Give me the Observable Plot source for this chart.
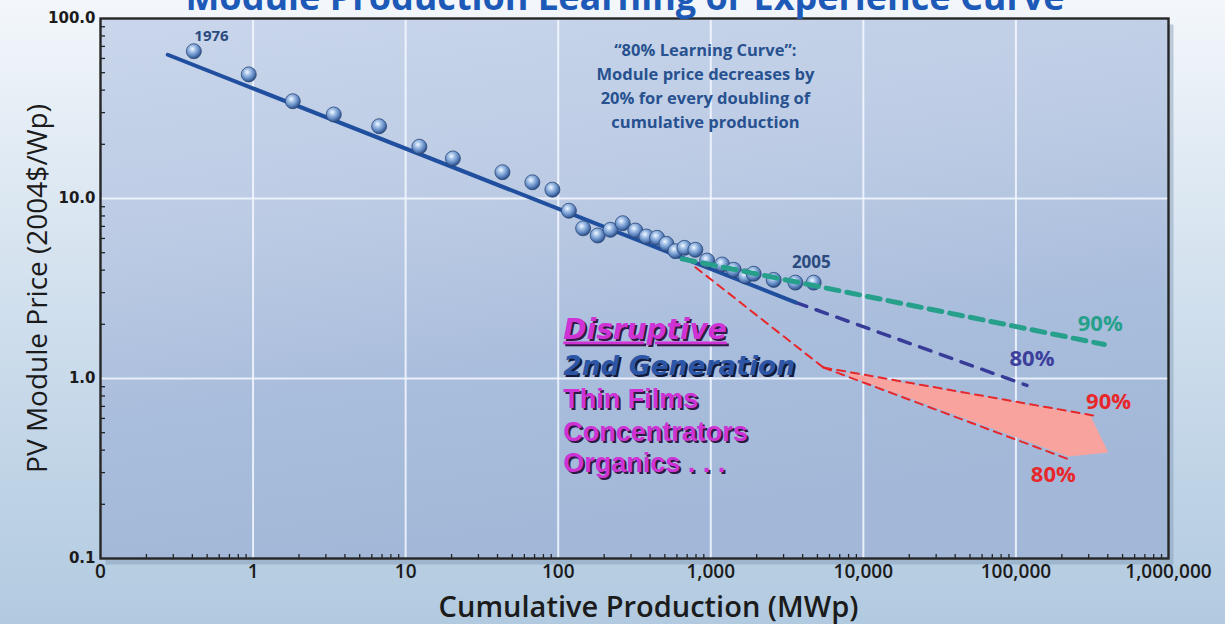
<!DOCTYPE html>
<html><head><meta charset="utf-8">
<script src="https://cdn.jsdelivr.net/npm/d3@7"></script>
<script src="https://cdn.jsdelivr.net/npm/@observablehq/plot@0.6"></script>
<style>
html,body{margin:0;padding:0;}
body{width:1225px;height:624px;overflow:hidden;position:relative;
 background:linear-gradient(to bottom,#f3f7fb 0%,#dde8f2 30%,#c6d8e9 65%,#b2cae0 100%);}
#chart{position:absolute;left:0;top:0;}
#title{position:absolute;left:0;top:-21px;width:1250px;text-align:center;white-space:nowrap;
 font:700 36px/36px "Open Sans",sans-serif;color:#1d5ab8;}
</style></head><body>
<div id="chart"></div>
<div id="title">Module Production Learning or Experience Curve</div>
<script>
// ---- data (cumulative production MWp, price 2004$/Wp) ----
const production = [0.409, 0.937, 1.82, 3.38, 6.70, 12.3, 20.4, 43.1, 67.7, 91.6,
  117.5, 145.6, 181.5, 219.9, 264.7, 320.5, 378.4, 444.7, 511.7, 586.1,
  671.4, 792.6, 945.8, 1186, 1413, 1685, 1910, 2584, 3584, 4724];
const price = [65.8, 48.9, 34.7, 29.3, 25.2, 19.4, 16.7, 14.0, 12.3, 11.2,
  8.55, 6.83, 6.23, 6.70, 7.29, 6.64, 6.15, 6.05, 5.60, 5.10,
  5.32, 5.19, 4.52, 4.30, 4.02, 3.69, 3.82, 3.53, 3.41, 3.41];

const fitProduction = [0.276, 3584];
const fitPrice = [62.9, 2.65];
const proj80Production = [3584, 118000];
const proj80Price = [2.65, 0.915];
const proj90Production = [649, 380000];
const proj90Price = [4.62, 1.545];
const disruptProduction = [793, 5470];
const disruptPrice = [4.15, 1.151];
const disrupt90Production = [5470, 322800];
const disrupt90Price = [1.151, 0.623];
const disrupt80Production = [5470, 233200];
const disrupt80Price = [1.151, 0.350];
const arrowProduction = [7620, 307300, 403200, 220400, 8225];
const arrowPrice = [1.08, 0.623, 0.388, 0.369, 1.026];

const xTicks = [0.1, 1, 10, 100, 1000, 10000, 100000, 1000000];
const xTickLabels = ["0", "1", "10", "100", "1,000", "10,000", "100,000", "1,000,000"];
const yTicks = [0.1, 1, 10, 100];
const yTickLabels = ["0.1", "1.0", "10.0", "100.0"];
const gridX = [1, 10, 100, 1000, 10000, 100000];
const gridY = [1, 10];

const noteText = "\u201c80% Learning Curve\u201d:\nModule price decreases by\n20% for every doubling of\ncumulative production";
const disruptLines = ["Disruptive", "2nd Generation", "Thin Films", "Concentrators", "Organics . . ."];
const disruptLineY = [1.647, 1.052, 0.690, 0.447, 0.304];
const disruptX = 108;

// ---- derived tables ----
const pts = production.map((p, i) => ({x: p, y: price[i]}));
const seg = (xs, ys) => xs.map((x, i) => ({x, y: ys[i]}));
const minorX = [], minorY = [];
for (let e = -1; e < 6; e++) for (let m = 2; m <= 9; m++) minorX.push(m * 10 ** e);
for (let e = -1; e < 2; e++) for (let m = 2; m <= 9; m++) minorY.push(m * 10 ** e);

const W = 1225, H = 624, mL = 100, mR = 57, mT = 18, mB = 66;
const magenta = "#cf33d6", shadow = "#2e1a44";
const blockStyle = i => ({
  fontFamily: i < 2 ? "DejaVu Sans" : "Liberation Sans",
  fontWeight: "bold", fontStyle: i < 2 ? "italic" : "normal",
  fontSize: i === 0 ? 28 : i === 1 ? 26.5 : 27
});

const chart = Plot.plot({
  width: W, height: H,
  marginLeft: mL, marginRight: mR, marginTop: mT, marginBottom: mB,
  x: {type: "log", domain: [0.1, 1e6], label: null},
  y: {type: "log", domain: [0.1, 100], label: null},
  style: {background: "transparent", overflow: "visible", fontFamily: "Open Sans"},
  marks: [
    Plot.frame({fill: "#7f97b3", fillOpacity: 0.45, dx: 5, dy: 6}),
    Plot.frame({fill: "url(#plotbg)"}),
    Plot.ruleX(gridX, {stroke: "#f4f8ff", strokeWidth: 2, strokeOpacity: 0.85}),
    Plot.ruleY(gridY, {stroke: "#f4f8ff", strokeWidth: 2, strokeOpacity: 0.85}),
    Plot.ruleX(minorX, {stroke: "#222", strokeWidth: 1.3, insetTop: H - mT - mB - 4}),
    Plot.ruleY(minorY, {stroke: "#222", strokeWidth: 1.3, insetRight: W - mL - mR - 5}),
    // pink arrow between disruptive projections
    Plot.line(seg(arrowProduction, arrowPrice), {x: "x", y: "y", fill: "#f8a39d", stroke: "none", curve: "linear-closed"}),
    Plot.line(seg(disruptProduction, disruptPrice), {x: "x", y: "y", stroke: "#e8272b", strokeWidth: 2, strokeDasharray: "8,6"}),
    Plot.line(seg(disrupt90Production, disrupt90Price), {x: "x", y: "y", stroke: "#e8272b", strokeWidth: 2, strokeDasharray: "8,6"}),
    Plot.line(seg(disrupt80Production, disrupt80Price), {x: "x", y: "y", stroke: "#e8272b", strokeWidth: 2, strokeDasharray: "8,6"}),
    Plot.line(seg(proj80Production, proj80Price), {x: "x", y: "y", stroke: "#373c99", strokeWidth: 3.5, strokeDasharray: "12,10"}),
    Plot.line(seg(fitProduction, fitPrice), {x: "x", y: "y", stroke: "#1f4f9e", strokeWidth: 4}),
    Plot.dot(pts, {x: "x", y: "y", r: 7.5, fill: "url(#ball)", stroke: "#2a4778", strokeWidth: 0.8}),
    Plot.line(seg(proj90Production, proj90Price), {x: "x", y: "y", stroke: "#26a08b", strokeWidth: 5, strokeDasharray: "13,8"}),
    // annotations
    Plot.text([noteText], {x: 922, y: 43, fontFamily: "Open Sans", fontWeight: 700, fontSize: 16.5, lineHeight: 1.46, fill: "#27518f", lineAnchor: "middle"}),
    Plot.text(["1976"], {x: 0.534, y: 79.4, fontFamily: "Open Sans", fontWeight: 700, fontSize: 15, fill: "#2b4a7e"}),
    Plot.text(["2005"], {x: 4560, y: 4.41, fontFamily: "Open Sans", fontWeight: 700, fontSize: 17, fill: "#2b4a7e"}),
    Plot.text(["90%"], {x: 357000, y: 2.02, fontFamily: "Open Sans", fontWeight: 700, fontSize: 22, fill: "#26a08b"}),
    Plot.text(["80%"], {x: 127500, y: 1.29, fontFamily: "Open Sans", fontWeight: 700, fontSize: 22, fill: "#3d3f9c"}),
    Plot.text(["90%"], {x: 405000, y: 0.738, fontFamily: "Open Sans", fontWeight: 700, fontSize: 22, fill: "#e8272b"}),
    Plot.text(["80%"], {x: 175800, y: 0.293, fontFamily: "Open Sans", fontWeight: 700, fontSize: 22, fill: "#e8272b"}),
    // disruptive block: shadows then fills
    ...disruptLines.map((t, i) => Plot.text([t], {
      x: disruptX, y: disruptLineY[i], dx: 2, dy: 2, textAnchor: "start", lineAnchor: "bottom",
      ...blockStyle(i), fill: i === 1 ? "#121a3c" : shadow})),
    ...disruptLines.map((t, i) => Plot.text([t], {
      x: disruptX, y: disruptLineY[i], textAnchor: "start", lineAnchor: "bottom",
      ...blockStyle(i), fill: i === 1 ? "#2c55a5" : magenta})),
    Plot.frame({stroke: "#262626", strokeWidth: 2.4}),
    Plot.axisX({ticks: xTicks, tickFormat: d => xTickLabels[xTicks.indexOf(d)], tickSize: 0, tickPadding: 6,
      fontFamily: "Open Sans", fontWeight: 600, fontSize: 19, fill: "#1b1b1b", label: null}),
    Plot.axisY({ticks: yTicks, tickFormat: d => yTickLabels[yTicks.indexOf(d)], tickSize: 0, tickPadding: 5,
      fontFamily: "DejaVu Sans", fontWeight: "bold", fontSize: 15, fill: "#1b1b1b", label: null}),
    Plot.text(["Cumulative Production (MWp)"], {frameAnchor: "bottom", dx: 14, dy: 58, lineAnchor: "bottom", textAnchor: "middle",
      fontFamily: "Open Sans", fontWeight: 600, fontSize: 29, fill: "#1b1b1b"}),
    Plot.text(["PV Module Price (2004$/Wp)"], {frameAnchor: "left", dx: -62, rotate: -90, lineAnchor: "middle", textAnchor: "middle",
      fontFamily: "Open Sans", fontWeight: 400, fontSize: 28, fill: "#1b1b1b"})
  ]
});

const svg = d3.select(chart.tagName.toLowerCase() === "svg" ? chart : chart.querySelector("svg"));
const defs = svg.insert("defs", ":first-child");
const bg = defs.append("linearGradient").attr("id", "plotbg").attr("x1", 0).attr("y1", 0).attr("x2", 0.25).attr("y2", 1);
[[0, "#c9d6eb"], [0.4, "#bccbe4"], [0.7, "#a9bddc"], [1, "#a3b8d8"]].forEach(([o, c]) =>
  bg.append("stop").attr("offset", o).attr("stop-color", c));
const ball = defs.append("radialGradient").attr("id", "ball").attr("cx", "40%").attr("cy", "35%").attr("r", "65%");
[[0, "#f4f9ff"], [0.3, "#a8c5ea"], [0.72, "#5a82bd"], [1, "#2c4d82"]].forEach(([o, c]) =>
  ball.append("stop").attr("offset", o).attr("stop-color", c));
svg.selectAll("text").filter(function () { return this.textContent === "Disruptive"; })
  .style("text-decoration", "underline");
document.getElementById("chart").appendChild(chart);
</script>
</body></html>
